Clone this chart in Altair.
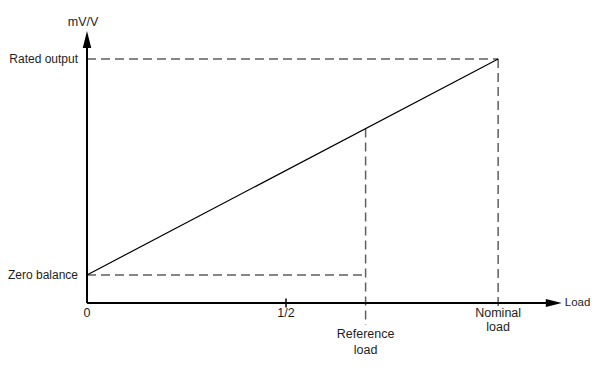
import altair as alt
import pandas as pd

# ---- values (load in nominal-ish units, output normalised) ----
half_load = 0.5
reference_load = 0.70
nominal_load = 1.033
zero_balance = 0.115
rated_output = 1.0
x_axis_end = 1.193
y_axis_end = 1.115
nominal_drop = -0.012     # how far the nominal dashed line reaches below the axis
reference_drop = -0.09    # how far the reference dashed line reaches below the axis

x_tick_labels = ["0", "1/2"]
x_tick_values = [0.0, half_load]
y_labels = ["Rated output", "Zero balance"]
y_label_values = [rated_output, zero_balance]

x_domain = [-0.1985, 1.2663]
y_domain = [-0.2418, 1.209]

W, H = 583, 354
FONT = "Liberation Sans"
TXT = "#1e1e1e"

xs = alt.Scale(domain=x_domain, nice=False, zero=False)
ys = alt.Scale(domain=y_domain, nice=False, zero=False)


def enc(x="x", y="y", **kw):
    return dict(
        x=alt.X(f"{x}:Q", scale=xs, axis=None),
        y=alt.Y(f"{y}:Q", scale=ys, axis=None),
        **kw,
    )


reference_output = zero_balance + (rated_output - zero_balance) * reference_load / nominal_load

# characteristic line
line_df = pd.DataFrame({"x": [0.0, nominal_load], "y": [zero_balance, rated_output]})
line = alt.Chart(line_df).mark_line(color="black", strokeWidth=1.2).encode(**enc())

# dashed helper lines
dash_df = pd.DataFrame({
    "x": [0.0, nominal_load, 0.0, reference_load],
    "x2": [nominal_load, nominal_load, reference_load, reference_load],
    "y": [rated_output, rated_output, zero_balance, reference_output],
    "y2": [rated_output, nominal_drop, zero_balance, reference_drop],
})
dashes = alt.Chart(dash_df).mark_rule(color="#5f5f5f", strokeWidth=1.5, strokeDash=[9, 5]).encode(
    **enc(), x2="x2:Q", y2="y2:Q"
)

# axes
axes_df = pd.DataFrame({
    "x": [0.0, 0.0],
    "x2": [x_axis_end - 0.02, 0.0],
    "y": [0.0, 0.0],
    "y2": [0.0, y_axis_end - 0.03],
})
axes = alt.Chart(axes_df).mark_rule(color="black", strokeWidth=2).encode(**enc(), x2="x2:Q", y2="y2:Q")

xarrow = alt.Chart(pd.DataFrame({"x": [x_axis_end], "y": [0.0]})).mark_point(
    shape="M0,0L-2,-0.5L-2,0.5Z", size=256, filled=True, color="black", opacity=1, strokeWidth=0
).encode(**enc())
yarrow = alt.Chart(pd.DataFrame({"x": [0.0], "y": [y_axis_end]})).mark_point(
    shape="M0,0L-0.5,2L0.5,2Z", size=289, filled=True, color="black", opacity=1, strokeWidth=0
).encode(**enc())

# tick at 1/2
tick = alt.Chart(pd.DataFrame({"x": [half_load], "y": [0.0]})).mark_tick(
    orient="vertical", size=9, thickness=1.5, color="black", opacity=1
).encode(**enc())

# labels
ylab = alt.Chart(pd.DataFrame({"x": [0.0, 0.0], "y": y_label_values, "t": y_labels})).mark_text(
    align="right", baseline="middle", dx=-9, font=FONT, fontSize=12, color=TXT
).encode(**enc(), text="t:N")

xlab = alt.Chart(pd.DataFrame({"x": x_tick_values, "y": [0.0, 0.0], "t": x_tick_labels})).mark_text(
    align="center", baseline="top", dy=3.5, font=FONT, fontSize=12.5, color=TXT
).encode(**enc(), text="t:N")

nom_lab = alt.Chart(pd.DataFrame({"x": [nominal_load], "y": [0.0], "t": [["Nominal", "load"]]})).mark_text(
    align="center", baseline="top", dy=3.5, lineHeight=14, font=FONT, fontSize=12.5, color=TXT
).encode(**enc(), text="t")

ref_lab = alt.Chart(pd.DataFrame({"x": [reference_load], "y": [0.0], "t": [["Reference", "load"]]})).mark_text(
    align="center", baseline="top", dy=24.5, lineHeight=16, font=FONT, fontSize=12.5, color=TXT
).encode(**enc(), text="t")

load_lab = alt.Chart(pd.DataFrame({"x": [x_axis_end], "y": [0.0], "t": ["Load"]})).mark_text(
    align="left", baseline="middle", dx=3, font=FONT, fontSize=11.5, color=TXT
).encode(**enc(), text="t:N")

unit_lab = alt.Chart(pd.DataFrame({"x": [0.0], "y": [y_axis_end], "t": ["mV/V"]})).mark_text(
    align="center", baseline="middle", dx=-4, dy=-9, font=FONT, fontSize=12.5, color=TXT
).encode(**enc(), text="t:N")

chart = alt.layer(
    dashes, line, axes, xarrow, yarrow, tick, ylab, xlab, nom_lab, ref_lab, load_lab, unit_lab
).properties(
    width=W, height=H, autosize=alt.AutoSizeParams(type="none"), padding=0, background="white"
).configure_view(stroke=None)

chart.save("out.html", embed_options={"renderer": "svg", "actions": False})
